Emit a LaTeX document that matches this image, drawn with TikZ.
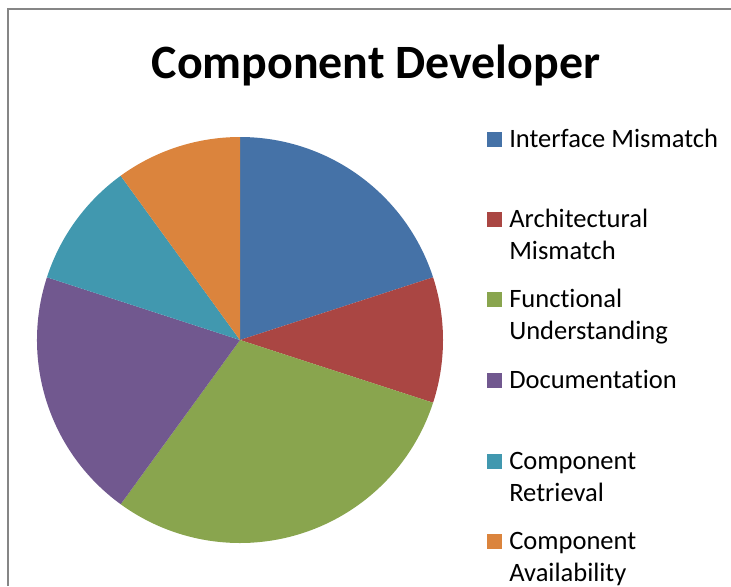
\documentclass[tikz,border=0pt]{standalone}
\usepackage{fontspec}
\setmainfont[Ligatures=NoCommon]{Carlito}
\definecolor{cBlue}{HTML}{4572A7}
\definecolor{cRed}{HTML}{AA4643}
\definecolor{cGreen}{HTML}{89A54E}
\definecolor{cPurple}{HTML}{71588F}
\definecolor{cTeal}{HTML}{4198AF}
\definecolor{cOrange}{HTML}{DB843D}
\definecolor{frameGray}{HTML}{868686}
\newcommand{\twolines}[2]{\vtop{\hbox{#1}\hbox{#2}}}
\begin{document}
\begin{tikzpicture}[x=0.75pt,y=-0.75pt,
  legtext/.style={anchor=base west,inner sep=0pt,font=\fontsize{19.9}{24}\selectfont},
  legbox/.style={minimum size=11.25pt,inner sep=0pt,anchor=south west}]
\useasboundingbox (0,0) rectangle (731,586);
\draw[frameGray,line width=1.5pt] (8,586) -- (8,9) -- (731,9);
\node[anchor=base,inner sep=0pt,font=\fontsize{35.9}{40}\selectfont\bfseries] (title) at (376,78) {Component Developer};
% pie: center (240,340), r=203
\coordinate (c) at (240,340);
\def\R{203}
\fill[cBlue]   (c) -- ++(-90:\R) arc[start angle=-90,end angle=-18,radius=\R] -- cycle;
\fill[cRed]    (c) -- ++(-18:\R) arc[start angle=-18,end angle=18,radius=\R] -- cycle;
\fill[cGreen]  (c) -- ++(18:\R) arc[start angle=18,end angle=126,radius=\R] -- cycle;
\fill[cPurple] (c) -- ++(126:\R) arc[start angle=126,end angle=198,radius=\R] -- cycle;
\fill[cTeal]   (c) -- ++(198:\R) arc[start angle=198,end angle=234,radius=\R] -- cycle;
\fill[cOrange] (c) -- ++(234:\R) arc[start angle=234,end angle=270,radius=\R] -- cycle;
% legend
\node[legbox,fill=cBlue]   (b1) at (487,147) {};
\node[legtext] (t1) at (509,147) {Interface Mismatch};
\node[legbox,fill=cRed]    (b2) at (487,227) {};
\node[legtext] (t2) at (509,227) {\twolines{Architectural}{Mismatch}};
\node[legbox,fill=cGreen]  (b3) at (487,307) {};
\node[legtext] (t3) at (509,307) {\twolines{Functional}{Understanding}};
\node[legbox,fill=cPurple] (b4) at (487,388) {};
\node[legtext] (t4) at (509,388) {Documentation};
\node[legbox,fill=cTeal]   (b5) at (487,469) {};
\node[legtext] (t5) at (509,469) {\twolines{Component}{Retrieval}};
\node[legbox,fill=cOrange] (b6) at (487,549) {};
\node[legtext] (t6) at (509,549) {\twolines{Component}{Availability}};
\end{tikzpicture}
\end{document}
